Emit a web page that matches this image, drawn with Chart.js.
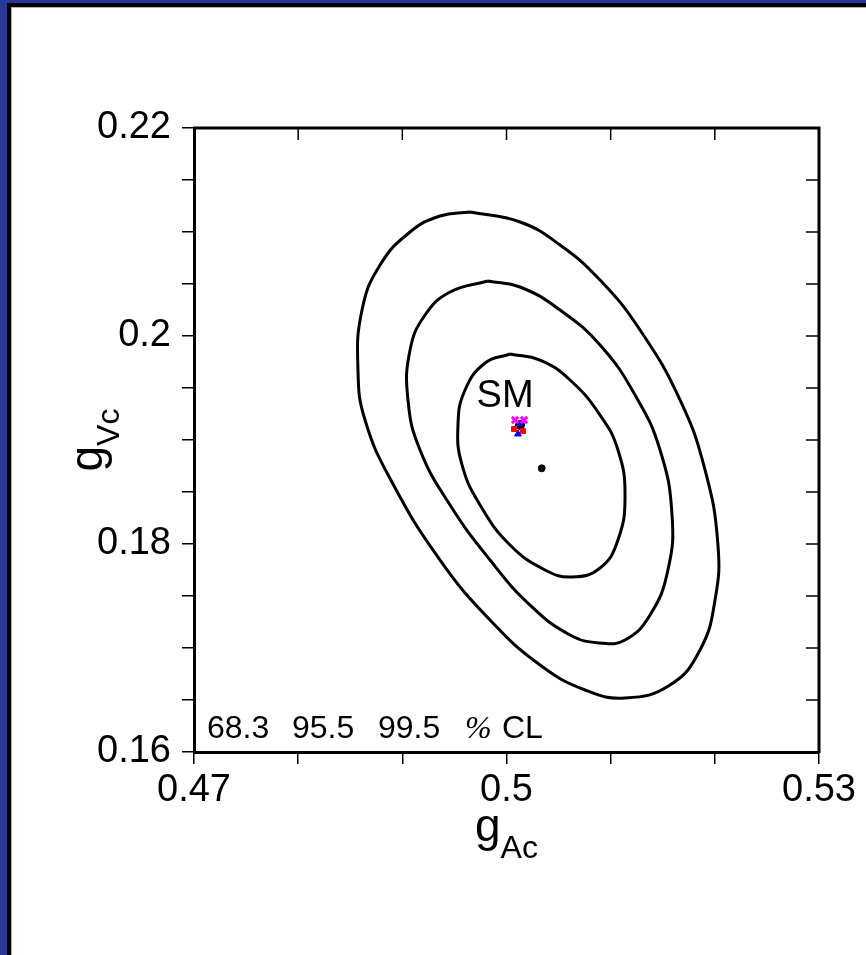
<!DOCTYPE html>
<html>
<head>
<meta charset="utf-8">
<script src="https://cdn.jsdelivr.net/npm/chart.js@4/dist/chart.umd.min.js"></script>
<style>
  html, body { margin: 0; padding: 0; background: #fff; }
  #frame { position: absolute; left: 0; top: 0; width: 866px; height: 955px; background: #26399a; }
  #black { position: absolute; left: 7px; top: 3px; width: 859px; height: 952px; background: #000; }
  #white { position: absolute; left: 11px; top: 7px; width: 855px; height: 948px; background: #fff; border-left: 1px solid #b0b0b0; border-top: 1px solid #b0b0b0; }
  #c { position: absolute; left: 0; top: 0; }
</style>
</head>
<body>
<div id="frame"></div>
<div id="black"></div>
<div id="white"></div>
<canvas id="c" width="866" height="955"></canvas>
<script>
// ---- data ----
const xTickLabels = ['0.47', '0.5', '0.53'];
const yTickLabels = ['0.16', '0.18', '0.2', '0.22'];
const clLabels = ['68.3', '95.5', '99.5'];

// 68.3 % CL contour (gAc, gVc)
const contour683 = [
  [0.50034, 0.19827], [0.50322, 0.19769], [0.50610, 0.19577], [0.50898, 0.19240],
  [0.51070, 0.18904], [0.51138, 0.18471], [0.51070, 0.18038], [0.50898, 0.17769],
  [0.50629, 0.17683], [0.50370, 0.17750], [0.50034, 0.17990], [0.49746, 0.18375],
  [0.49573, 0.18760], [0.49534, 0.19144], [0.49602, 0.19481], [0.49794, 0.19740],
  [0.50034, 0.19827]
];
// 95.5 % CL contour
const contour955 = [
  [0.49822, 0.20529], [0.50130, 0.20471], [0.50514, 0.20250], [0.50898, 0.19913],
  [0.51234, 0.19433], [0.51474, 0.18904], [0.51589, 0.18279], [0.51550, 0.17750],
  [0.51378, 0.17317], [0.51138, 0.17077], [0.50898, 0.17048], [0.50610, 0.17125],
  [0.50226, 0.17413], [0.49842, 0.17846], [0.49458, 0.18375], [0.49170, 0.18904],
  [0.49054, 0.19385], [0.49074, 0.19865], [0.49218, 0.20202], [0.49458, 0.20423],
  [0.49822, 0.20529]
];
// 99.5 % CL contour
const contour995 = [
  [0.49650, 0.21192], [0.50130, 0.21096], [0.50514, 0.20875], [0.50898, 0.20538],
  [0.51282, 0.20058], [0.51666, 0.19385], [0.51906, 0.18712], [0.52030, 0.17990],
  [0.52002, 0.17462], [0.51858, 0.16981], [0.51570, 0.16644], [0.51138, 0.16519],
  [0.50754, 0.16596], [0.50322, 0.16837], [0.49842, 0.17269], [0.49362, 0.17846],
  [0.48900, 0.18596], [0.48642, 0.19192], [0.48574, 0.19673], [0.48613, 0.20250],
  [0.48786, 0.20683], [0.49074, 0.21000], [0.49362, 0.21154], [0.49650, 0.21192]
];
const bestFit = [[0.50338, 0.18728]];
const smPoint = [[0.50130, 0.19144]];
const smMagenta = [[0.50082, 0.19192], [0.50168, 0.19192]];
const smRed = [[0.50072, 0.19106], [0.50158, 0.19086]];
const smBlue = [[0.50130, 0.19154], [0.50110, 0.19058]];

const toXY = arr => arr.map(p => ({ x: p[0], y: p[1] }));
const SANS = '"Liberation Sans", Arial, Helvetica, sans-serif';

function contourDS(pts) {
  return { type: 'line', data: toXY(pts), borderColor: '#000', borderWidth: 3,
           pointRadius: 0, fill: false, tension: 0.45, showLine: true };
}
function pointDS(pts, color, style, r, bw) {
  return { type: 'scatter', data: toXY(pts), backgroundColor: color, borderColor: color,
           pointStyle: style, pointRadius: r, borderWidth: bw, showLine: false };
}

function near(v, labels) {
  return labels.find(l => Math.abs(parseFloat(l) - v) < 1e-6);
}

const decor = {
  id: 'decor',
  afterDraw(chart) {
    const { ctx, chartArea: a, scales: { x, y } } = chart;
    ctx.save();
    // top and right frame
    ctx.strokeStyle = '#000';
    ctx.lineWidth = 3;
    ctx.beginPath();
    ctx.moveTo(a.left - 1, a.top);
    ctx.lineTo(a.right, a.top);
    ctx.lineTo(a.right, a.bottom + 1);
    ctx.stroke();
    // inward ticks on top and right
    ctx.lineWidth = 1.5;
    ctx.beginPath();
    x.ticks.forEach(t => {
      const px = x.getPixelForValue(t.value);
      ctx.moveTo(px, a.top); ctx.lineTo(px, a.top + 12);
    });
    y.ticks.forEach(t => {
      const py = y.getPixelForValue(t.value);
      ctx.moveTo(a.right, py); ctx.lineTo(a.right - 13, py);
    });
    ctx.stroke();

    ctx.fillStyle = '#000';
    // x title g_Ac
    const gFont = '46px ' + SANS, sFont = '32px ' + SANS;
    ctx.font = gFont; const gw = ctx.measureText('g').width;
    ctx.font = sFont; const aw = ctx.measureText('Ac').width;
    let start = (a.left + a.right) / 2 - (gw + aw) / 2;
    ctx.textAlign = 'left'; ctx.textBaseline = 'alphabetic';
    ctx.font = gFont; ctx.fillText('g', start, a.bottom + 89);
    ctx.font = sFont; ctx.fillText('Ac', start + gw, a.bottom + 106);

    // y title g_Vc (rotated)
    ctx.font = sFont; const vw = ctx.measureText('Vc').width;
    ctx.save();
    ctx.translate(a.left - 92, (a.top + a.bottom) / 2);
    ctx.rotate(-Math.PI / 2);
    const s2 = -(gw + vw) / 2;
    ctx.font = gFont; ctx.fillText('g', s2, 0);
    ctx.font = sFont; ctx.fillText('Vc', s2 + gw, 17);
    ctx.restore();

    // CL legend
    ctx.font = '32px ' + SANS;
    const base = a.bottom - 14;
    const offs = [13, 98, 184];
    clLabels.forEach((l, i) => ctx.fillText(l, a.left + offs[i], base));
    ctx.font = 'italic 32px "Liberation Serif", "Times New Roman", serif';
    ctx.fillText('%', a.left + 271, base);
    ctx.font = '32px ' + SANS;
    ctx.fillText('CL', a.left + 308, base);

    // SM label
    ctx.font = '38px ' + SANS;
    ctx.textAlign = 'center';
    ctx.fillText('SM', x.getPixelForValue(smPoint[0][0]) - 15, y.getPixelForValue(smPoint[0][1]) - 18);
    ctx.restore();
  }
};

new Chart(document.getElementById('c'), {
  data: {
    datasets: [
      contourDS(contour683),
      contourDS(contour955),
      contourDS(contour995),
      pointDS(smMagenta, '#ff00ff', 'crossRot', 4.5, 3),
      pointDS(smRed, '#ff0000', 'rect', 3.5, 1),
      pointDS(smBlue, '#0000ff', 'triangle', 4, 1),
      pointDS(smPoint, '#000', 'circle', 4.5, 1),
      pointDS(bestFit, '#000', 'circle', 3.5, 1)
    ]
  },
  options: {
    responsive: false,
    animation: false,
    devicePixelRatio: 1,
    layout: { padding: { left: 0, right: 47, top: 128, bottom: 0 } },
    plugins: { legend: { display: false }, tooltip: { enabled: false } },
    scales: {
      x: {
        type: 'linear', position: 'bottom', min: 0.47, max: 0.53,
        afterFit: s => { s.height = 203; },
        border: { color: '#000', width: 3 },
        grid: { drawOnChartArea: false, color: '#000', lineWidth: 1.5, tickLength: 12 },
        ticks: {
          stepSize: 0.01, autoSkip: false, maxRotation: 0, minRotation: 0,
          color: '#000', padding: 4, font: { family: SANS, size: 38 },
          callback: v => near(v, xTickLabels) || ''
        }
      },
      y: {
        type: 'linear', position: 'left', min: 0.16, max: 0.22,
        afterFit: s => { s.width = 194; },
        border: { color: '#000', width: 3 },
        grid: { drawOnChartArea: false, color: '#000', lineWidth: 1.5, tickLength: 12 },
        ticks: {
          stepSize: 0.005, autoSkip: false,
          color: '#000', padding: 11, font: { family: SANS, size: 38 },
          callback: v => near(v, yTickLabels) || ''
        }
      }
    }
  },
  plugins: [decor]
});
</script>
</body>
</html>
